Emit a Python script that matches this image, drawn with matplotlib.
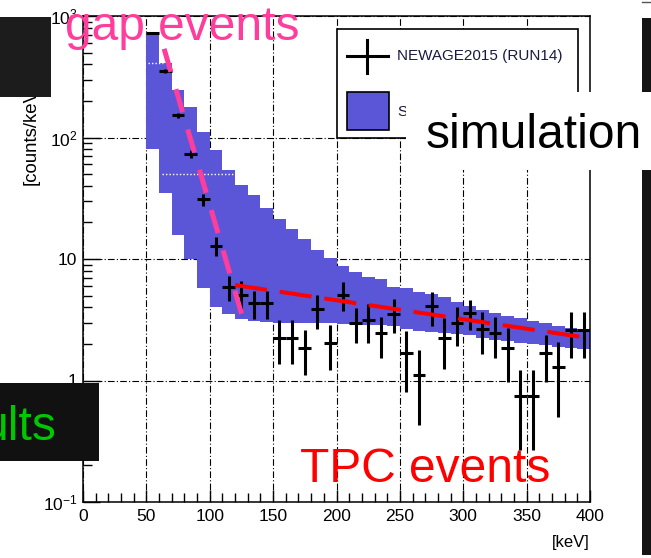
import matplotlib
matplotlib.use("Agg")
import matplotlib.pyplot as plt
from matplotlib.patches import Rectangle
from matplotlib.ticker import MultipleLocator, FixedLocator, LogLocator, NullFormatter

plt.rcParams['font.family'] = ['Liberation Sans', 'DejaVu Sans']
plt.rcParams['mathtext.fontset'] = 'custom'
plt.rcParams['mathtext.rm'] = 'Liberation Sans'
plt.rcParams['mathtext.it'] = 'Liberation Sans:italic'

# energy bins (keV), 10 keV wide
bin_centers = [55, 65, 75, 85, 95, 105, 115, 125, 135, 145,
               155, 165, 175, 185, 195, 205, 215, 225, 235, 245,
               255, 265, 275, 285, 295, 305, 315, 325, 335, 345,
               355, 365, 375, 385, 395]

# NEWAGE2015 (RUN14) measured spectrum [counts/keV/...]
run14_vals = [724, 353, 153, 73, 31, 12.8, 5.9, 5.1, 4.35, 4.35,
              2.24, 2.24, 1.85, 3.87, 2.05, 5.06, 2.97, 3.15, 2.44, 3.55,
              1.68, 1.11, 4.1, 2.24, 2.97, 3.6, 2.65, 2.44, 1.85, 0.74,
              0.74, 1.68, 1.29, 2.6, 2.6]
run14_errs = [16, 11.5, 7.5, 5.2, 3.5, 2.3, 1.4, 1.45, 1.15, 1.15,
              0.88, 0.88, 0.75, 1.2, 0.83, 1.35, 0.95, 1.1, 0.9, 1.1,
              0.88, 0.68, 1.3, 1.0, 1.03, 1.0, 1.0, 0.92, 0.88, 0.47,
              0.47, 0.71, 0.79, 1.06, 1.06]

# simulation band (upper / lower edge per bin)
sim_upper = [740, 410, 245, 178, 111, 79, 54, 41, 33.6, 26.3,
             21.3, 17.7, 14.6, 11.9, 10.2, 8.7, 7.8, 7.1, 6.8, 5.9,
             5.8, 5.35, 5.2, 4.9, 4.4, 4.1, 3.8, 3.6, 3.4, 3.27,
             3.1, 2.95, 2.8, 2.7, 2.55]
sim_lower = [80, 35, 15.8, 10, 5.8, 4.0, 3.5, 3.2, 3.1, 3.05,
             3.0, 3.0, 3.0, 2.95, 2.95, 2.9, 2.9, 2.85, 2.85, 2.8,
             2.65, 2.55, 2.5, 2.45, 2.4, 2.35, 2.25, 2.15, 2.1, 2.05,
             2.0, 1.95, 1.9, 1.85, 1.8]

# fitted components
gap_fit_x = [64, 125.4]
gap_fit_y = [537, 3.46]
tpc_fit_x = [120, 393.7]
tpc_fit_y = [6.1, 2.28]

W, H = 651, 558
fig = plt.figure(figsize=(W / 100, H / 100), dpi=100)
fig.patch.set_facecolor('white')

ax = fig.add_axes([83 / W, 1 - 502 / H, 507 / W, 486 / H])
ax.set_yscale('log')
ax.set_xlim(0, 400)
ax.set_ylim(0.1, 1000)

edges = [c - 5 for c in bin_centers] + [bin_centers[-1] + 5]
ax.fill_between(edges, sim_lower + [sim_lower[-1]], sim_upper + [sim_upper[-1]],
                step='post', color='#5b56d8', linewidth=0, zorder=2)
# faint white dotted lines seen inside the band
ax.hlines([410], 51, 63, colors='white', linestyles=(0, (1, 1.5)), linewidth=1, zorder=3)
ax.hlines([50], 62, 121, colors='white', linestyles=(0, (1, 1.5)), linewidth=1, zorder=3)

ax.errorbar(bin_centers, run14_vals, yerr=run14_errs, xerr=5, fmt='none',
            ecolor='black', elinewidth=2.2, capsize=0, zorder=4)

ax.plot(gap_fit_x, gap_fit_y, color='#ff3d9c', linewidth=3.6,
        dashes=(4.8, 3.6), dash_capstyle='butt', zorder=5)
ax.plot(tpc_fit_x, tpc_fit_y, color='#ff0000', linewidth=2.9,
        dashes=(8, 3.2), dash_capstyle='butt', zorder=5)

ax.set_axisbelow(True)
ax.grid(True, which='major', color='black', linestyle=(0, (6, 2, 1, 2)), linewidth=0.8)

ax.xaxis.set_major_locator(MultipleLocator(50))
ax.xaxis.set_minor_locator(MultipleLocator(10))
ax.yaxis.set_major_locator(FixedLocator([0.1, 1, 10, 100, 1000]))
ax.yaxis.set_minor_locator(LogLocator(base=10, subs=range(2, 10), numticks=20))
ax.yaxis.set_minor_formatter(NullFormatter())
ax.set_yticklabels([r'$10^{-1}$', '1', '10', r'$10^{2}$', r'$10^{3}$'])
ax.tick_params(which='both', direction='in', top=False, right=False, labelsize=12.5,
               colors='black')
ax.tick_params(axis='x', which='major', length=9, width=1, pad=5)
ax.tick_params(axis='x', which='minor', length=6.5, width=1)
ax.tick_params(axis='y', which='major', length=12, width=1, pad=4)
ax.tick_params(axis='y', which='minor', length=6.5, width=1)
for s in ax.spines.values():
    s.set_linewidth(1.1)

# overlay in pixel coordinates for legend and slide annotations
ov = fig.add_axes([0, 0, 1, 1], zorder=5)
ov.set_xlim(0, W)
ov.set_ylim(H, 0)
ov.axis('off')
ov.patch.set_alpha(0)

ov.text(590, 543, '[keV]', ha='right', va='center', fontsize=12, zorder=2)
ov.text(31, 185, '[counts/keV/kg/day]', rotation=90, ha='center', va='bottom',
        fontsize=13.4, zorder=2)

# legend
ov.add_patch(Rectangle((337, 29), 241, 109, facecolor='white', edgecolor='black',
                       linewidth=1.2, zorder=3))
ov.plot([347, 388], [56, 56], color='black', linewidth=2.2, zorder=4)
ov.plot([367, 367], [40, 73], color='black', linewidth=2.2, zorder=4)
ov.text(397, 56, 'NEWAGE2015 (RUN14)', ha='left', va='center', fontsize=11,
        color='#1a1a40', zorder=4)
ov.add_patch(Rectangle((347, 92), 42, 38, facecolor='#5b56d8', edgecolor='black',
                       linewidth=1.2, zorder=4))
ov.text(397, 112, 'S', ha='left', va='center', fontsize=11, color='#1a1a40', zorder=4)

# slide panels on top of the plot
ov.add_patch(Rectangle((642, 18), 9, 537, facecolor='#141414', edgecolor='none', zorder=10))
ov.add_patch(Rectangle((0, 17), 51, 80, facecolor='#1c1c1c', edgecolor='none', zorder=10))
ov.add_patch(Rectangle((0, 383), 99, 78, facecolor='#111111', edgecolor='none', zorder=10))
ov.add_patch(Rectangle((406, 92), 245, 78, facecolor='white', edgecolor='none', zorder=10))
ov.plot([642, 651], [2, 2], color='#555555', linewidth=1, zorder=10)

ov.text(65, 40, 'gap events', ha='left', va='baseline', fontsize=34.5,
        color='#ff3d9c', zorder=11)
ov.text(426, 148, 'simulation', ha='left', va='baseline', fontsize=34.5,
        color='black', zorder=11)
ov.text(300, 482, 'TPC events', ha='left', va='baseline', fontsize=34.5,
        color='#ff0000', zorder=11)
ov.text(57, 440, 'ults', ha='right', va='baseline', fontsize=34.5,
        color='#00c800', zorder=11)

fig.savefig('out.png', dpi=100)
